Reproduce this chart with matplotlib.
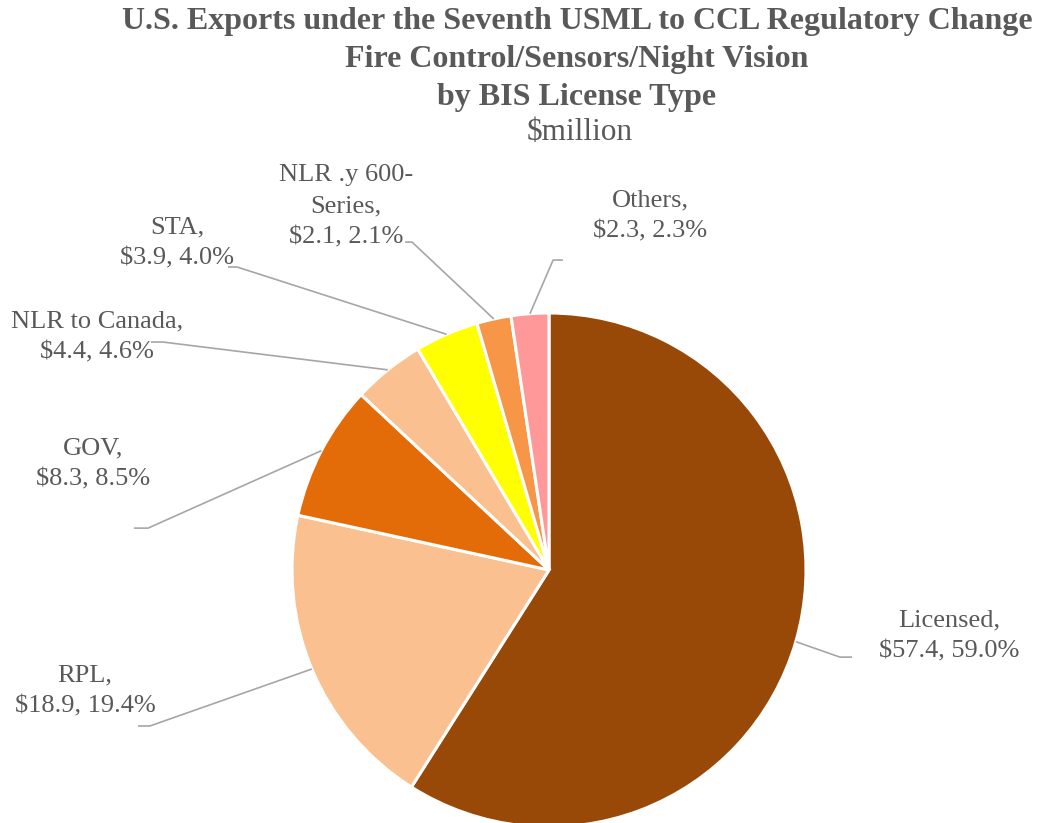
import numpy as np
import matplotlib
matplotlib.use("Agg")
import matplotlib.pyplot as plt

# data ($million, share shown in labels)
categories = ["Licensed", "RPL", "GOV", "NLR to Canada", "STA", "NLR .y 600-\nSeries", "Others"]
values = [57.4, 18.9, 8.3, 4.4, 3.9, 2.1, 2.3]
shares = [59.0, 19.4, 8.5, 4.6, 4.0, 2.1, 2.3]
colors = ["#984807", "#FAC090", "#E36C09", "#FAC090", "#FFFF00", "#F79646", "#FF9999"]

title_lines = ["U.S. Exports under the Seventh USML to CCL Regulatory Change",
               "Fire Control/Sensors/Night Vision",
               "by BIS License Type"]
subtitle = "$million"

# label layout (pie radius = 1): text centre, elbow, line end
text_pos = [(1.556, -0.257), (-1.805, -0.471), (-1.774, 0.412), (-1.759, 0.907),
            (-1.447, 1.272), (-0.790, 1.416), (0.393, 1.377)]
elbow_pos = [(1.132, -0.339), (-1.553, -0.607), (-1.560, 0.163), (-1.502, 0.887),
             (-1.214, 1.179), (-0.533, 1.276), (0.016, 1.206)]
end_pos = [(1.179, -0.339), (-1.599, -0.607), (-1.615, 0.163), (-1.549, 0.887),
           (-1.249, 1.179), (-0.560, 1.276), (0.054, 1.206)]

plt.rcParams['font.family'] = ['Liberation Serif', 'DejaVu Serif']
gray = "#595959"

W, H = 1037, 823
fig = plt.figure(figsize=(W / 100, H / 100), dpi=100)

cx, cy, r = 549, 570, 257
ax = fig.add_axes([(cx - r) / W, (H - cy - r) / H, 2 * r / W, 2 * r / H])
wedges, _ = ax.pie(values, colors=colors, startangle=90, counterclock=False,
                   radius=1, wedgeprops=dict(edgecolor="white", linewidth=2.2))
ax.set_xlim(-1, 1)
ax.set_ylim(-1, 1)
ax.set_aspect("equal")
ax.axis("off")

for w, name, v, s, tp, ep, lp in zip(wedges, categories, values, shares,
                                     text_pos, elbow_pos, end_pos):
    ang = np.deg2rad((w.theta1 + w.theta2) / 2)
    px, py = np.cos(ang), np.sin(ang)
    ax.plot([px, ep[0], lp[0]], [py, ep[1], lp[1]], color="#A6A6A6", lw=1.2,
            clip_on=False, solid_capstyle="butt")
    ax.text(tp[0], tp[1], f"{name},\n${v:.1f}, {s:.1f}%", ha="center", va="center",
            fontsize=19, color=gray, linespacing=1.55, clip_on=False)

title_y = [22, 60, 98]
for line, y in zip(title_lines, title_y):
    fig.text(577 / W, 1 - y / H, line, ha="center", va="center", fontsize=23,
             fontweight="bold", color=gray)
fig.text(580 / W, 1 - 133 / H, subtitle, ha="center", va="center", fontsize=22.5,
         color=gray)

fig.savefig("out.png", dpi=100)
